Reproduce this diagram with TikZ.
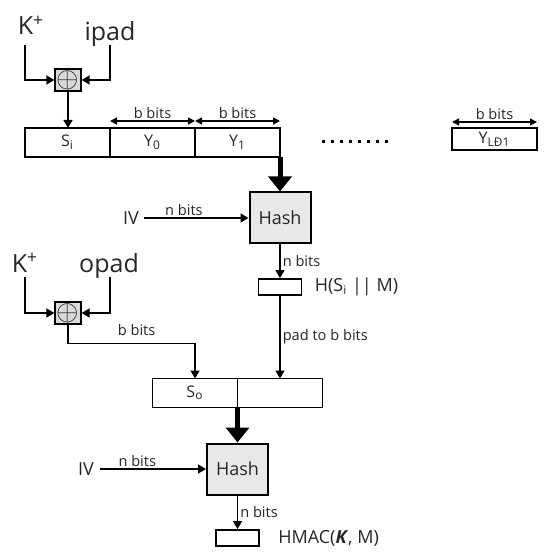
\documentclass[tikz,border=0pt]{standalone}
\usepackage{fontspec}
\setmainfont{Open Sans}
\usepackage{tikz}
\usetikzlibrary{arrows.meta, positioning}

\begin{document}
\begin{tikzpicture}[
                x=0.5pt, y=-0.5pt, % one unit per pixel, y runs down
                every node/.style={inner sep=1pt, text=black!85},
                big/.style={font=\fontsize{12.5}{13}\selectfont}, % K+, ipad, opad
                mid/.style={font=\fontsize{9}{10}\selectfont}, % IV and output labels
                small/.style={font=\fontsize{7.3}{8}\selectfont}, % bit counts
                blk/.style={draw, line width=0.9pt, minimum width=42.5pt, minimum height=14.5pt, inner sep=0pt, outer sep=0pt, font=\fontsize{8}{9}\selectfont},
                xorbox/.style={draw, fill=gray!30, line width=0.6pt, minimum width=13pt, minimum height=11pt, inner sep=0pt, font=\fontsize{13.5}{13.5}\selectfont},
                hashbox/.style={draw, fill=gray!18, line width=1pt, minimum width=30.5pt, minimum height=25.5pt, font=\fontsize{9}{9}\selectfont},
                outbox/.style={draw, line width=0.9pt, minimum width=21.5pt, minimum height=8pt, inner sep=0pt},
                wire/.style={draw, line width=0.75pt, -{Triangle[length=4pt, width=4.5pt]}},
                bigarrow/.style={draw, line width=2.5pt, -{Triangle[length=7.5pt, width=11.5pt]}},
                span/.style={draw, line width=0.75pt, {Triangle[length=3.5pt, width=3.5pt]}-{Triangle[length=3.5pt, width=3.5pt]}}
                ]
                \useasboundingbox (0,0) rectangle (546,560);

                % inner pass
                \node[big, anchor=base] (kin) at (31,35) {K\textsuperscript{+}};
                \node[big, anchor=base] (ipad) at (110,41) {ipad};
                \node[xorbox] (xin) at (68,80) {$\oplus$};
                \node[blk] (si) at (67.5,142.5) {S\textsubscript{i}};
                \node[blk, right=0pt of si] (y0) {Y\textsubscript{0}};
                \node[blk, right=0pt of y0] (y1) {Y\textsubscript{1}};
                \node[blk, minimum height=11pt] (yl) at (494.5,139) {Y\textsubscript{LĐ1}};
                \node[hashbox] (hash1) at (280,218) {Hash};
                \node[mid] (iv1) at (131,218) {IV};
                \node[outbox] (hin) at (280,287) {};
                \node[mid, right=5pt of hin] (hinlbl) {H(S\textsubscript{i} || M)};

                % outer pass
                \node[big, anchor=base] (kout) at (25,272) {K\textsuperscript{+}};
                \node[big, anchor=base] (opad) at (109,272) {opad};
                \node[xorbox] (xout) at (68,313) {$\oplus$};
                \node[blk] (so) at (195,393) {S\textsubscript{o}};
                \node[blk, right=0pt of so] (pad) {};
                \node[hashbox] (hash2) at (237.5,469) {Hash};
                \node[mid] (iv2) at (86,469) {IV};
                \node[outbox] (hout) at (237.5,538) {};
                \node[mid, right=8pt of hout] (houtlbl) {HMAC(\textbf{\textit{K}}, M)};

                \draw[span] ([yshift=3.5pt]y0.north west) -- ([yshift=3.5pt]y0.north east) node[small, midway, above] {b bits};
                \draw[span] ([yshift=3.5pt]y1.north west) -- ([yshift=3.5pt]y1.north east) node[small, midway, above] {b bits};
                \draw[span] ([yshift=3pt]yl.north west) -- ([yshift=3pt]yl.north east) node[small, midway, above] {b bits};
                \draw[line width=1.5pt, dash pattern=on 1.5pt off 3pt] (322,142) -- (392,142); % dots

                \draw[wire] ([shift={(-3pt,-5pt)}]kin.base) |- (xin.west);
                \draw[wire] ([yshift=-2pt]ipad.base) |- (xin.east);
                \draw[wire] (xin.south) -- (xin.south |- si.north);
                \draw[bigarrow] (y1.south east) -- (hash1.north);
                \draw[wire] ([xshift=1.5pt]iv1.east) -- (hash1.west) node[small, pos=0.38, above] {n bits};
                \draw[wire] (hash1.south) -- (hin.north) node[small, midway, right] {n bits};
                \draw[wire] (hin.south) -- (pad.north) node[small, midway, right] {pad to b bits};

                \draw[wire] ([yshift=-2.5pt]kout.base) |- (xout.west);
                \draw[wire] ([shift={(0.5pt,-2.5pt)}]opad.base) |- (xout.east);
                \draw[wire] (xout.south) -- ++(0,19) -| (so.north) node[small, pos=0.27, above=2.5pt] {b bits};
                \draw[bigarrow] (so.south east) -- (hash2.north);
                \draw[wire] ([xshift=2pt]iv2.east) -- (hash2.west) node[small, pos=0.35, above] {n bits};
                \draw[wire] (hash2.south) -- (hout.north) node[small, midway, right] {n bits};
            \end{tikzpicture}
\end{document}
